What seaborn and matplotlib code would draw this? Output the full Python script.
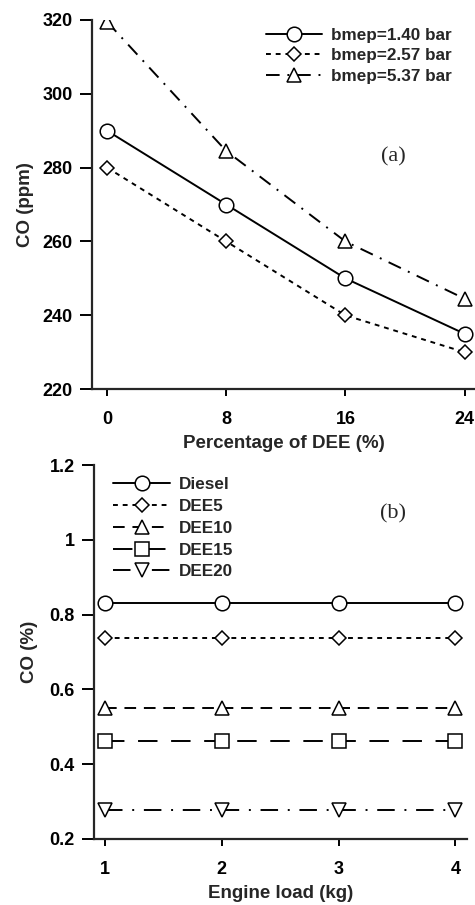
import numpy as np
import pandas as pd
import matplotlib
matplotlib.use("Agg")
import matplotlib.pyplot as plt
import seaborn as sns

# panel (a): CO vs DEE share at three loads
dee_pct = [0, 8, 16, 24]
co_bmep_140 = [290, 270, 250, 235]
co_bmep_257 = [280, 260, 240, 230]
co_bmep_537 = [319.5, 284.5, 260, 244.5]
labels_a = ["bmep=1.40 bar", "bmep=2.57 bar", "bmep=5.37 bar"]

# panel (b): CO vs engine load for each blend
load_kg = [1, 2, 3, 4]
co_diesel = [0.83, 0.83, 0.83, 0.83]
co_dee5 = [0.738, 0.738, 0.738, 0.738]
co_dee10 = [0.55, 0.55, 0.55, 0.55]
co_dee15 = [0.463, 0.463, 0.463, 0.463]
co_dee20 = [0.278, 0.278, 0.278, 0.278]
labels_b = ["Diesel", "DEE5", "DEE10", "DEE15", "DEE20"]

sns.set_style("ticks")
plt.rcParams["font.family"] = ["Liberation Sans", "DejaVu Sans"]
plt.rcParams["font.weight"] = "bold"
plt.rcParams["axes.labelweight"] = "bold"

fig = plt.figure(figsize=(4.75, 9.05), dpi=100)
ax1 = fig.add_axes([0.194, 0.570, 0.806, 0.408])
ax2 = fig.add_axes([0.198, 0.073, 0.785, 0.413])

lw = 1.4
mk = dict(color="black", markerfacecolor="white", markeredgecolor="black",
          markeredgewidth=1.1, linewidth=lw)

# top panel
sns.lineplot(x=dee_pct, y=co_bmep_140, ax=ax1, marker="o", markersize=10.5,
             linestyle="-", label=labels_a[0], **mk)
sns.lineplot(x=dee_pct, y=co_bmep_257, ax=ax1, marker="D", markersize=7,
             linestyle=(0, (2.5, 2.5)), label=labels_a[1], **mk)
sns.lineplot(x=dee_pct, y=co_bmep_537, ax=ax1, marker="^", markersize=10,
             linestyle=(0, (7, 4, 1, 4)), label=labels_a[2], **mk)

ax1.set_xlim(-1.0, 24.7)
ax1.set_ylim(220, 320)
ax1.set_xticks(dee_pct)
ax1.set_yticks(np.arange(220, 321, 20))
ax1.set_xlabel("Percentage of DEE (%)", fontsize=13.5, labelpad=5)
ax1.set_ylabel("CO (ppm)", fontsize=13.5, labelpad=6)
ax1.text(19.2, 283, "(a)", family="Liberation Serif", fontweight="normal",
         fontsize=16, ha="center", va="center")
ax1.legend(loc="upper right", bbox_to_anchor=(0.965, 1.005), frameon=False,
           fontsize=12.3, handlelength=3.3, handletextpad=0.5,
           labelspacing=0.3, borderaxespad=0.2)

# bottom panel
sns.lineplot(x=load_kg, y=co_diesel, ax=ax2, marker="o", markersize=10.5,
             linestyle="-", label=labels_b[0], **mk)
sns.lineplot(x=load_kg, y=co_dee5, ax=ax2, marker="D", markersize=7,
             linestyle=(0, (2.5, 2.5)), label=labels_b[1], **mk)
sns.lineplot(x=load_kg, y=co_dee10, ax=ax2, marker="^", markersize=10,
             linestyle=(0, (6, 4)), label=labels_b[2], **mk)
sns.lineplot(x=load_kg, y=co_dee15, ax=ax2, marker="s", markersize=10,
             linestyle=(0, (10, 7)), label=labels_b[3], **mk)
sns.lineplot(x=load_kg, y=co_dee20, ax=ax2, marker="v", markersize=10,
             linestyle=(0, (9, 5, 1, 5)), label=labels_b[4], **mk)

ax2.set_xlim(0.906, 4.10)
ax2.set_ylim(0.2, 1.2)
ax2.set_xticks(load_kg)
ax2.set_yticks([0.2, 0.4, 0.6, 0.8, 1.0, 1.2])
ax2.set_yticklabels(["0.2", "0.4", "0.6", "0.8", "1", "1.2"])
ax2.set_xlabel("Engine load (kg)", fontsize=13.5, labelpad=5)
ax2.set_ylabel("CO (%)", fontsize=13.5, labelpad=8)
ax2.text(3.47, 1.07, "(b)", family="Liberation Serif", fontweight="normal",
         fontsize=16, ha="center", va="center")
ax2.legend(loc="upper left", bbox_to_anchor=(0.02, 1.0), frameon=False,
           fontsize=12.3, handlelength=3.3, handletextpad=0.5,
           labelspacing=0.4, borderaxespad=0.3)

for ax in (ax1, ax2):
    sns.despine(ax=ax)
    ax.spines["left"].set_linewidth(1.6)
    ax.spines["bottom"].set_linewidth(1.6)
    ax.tick_params(axis="y", direction="out", length=9, width=1.4,
                   labelsize=13, colors="black", pad=5)
    ax.tick_params(axis="x", direction="out", length=5, width=1.4,
                   labelsize=13, colors="black", pad=11)
    for t in ax.get_xticklabels() + ax.get_yticklabels():
        t.set_fontweight("bold")

fig.savefig("out.png", dpi=100)
